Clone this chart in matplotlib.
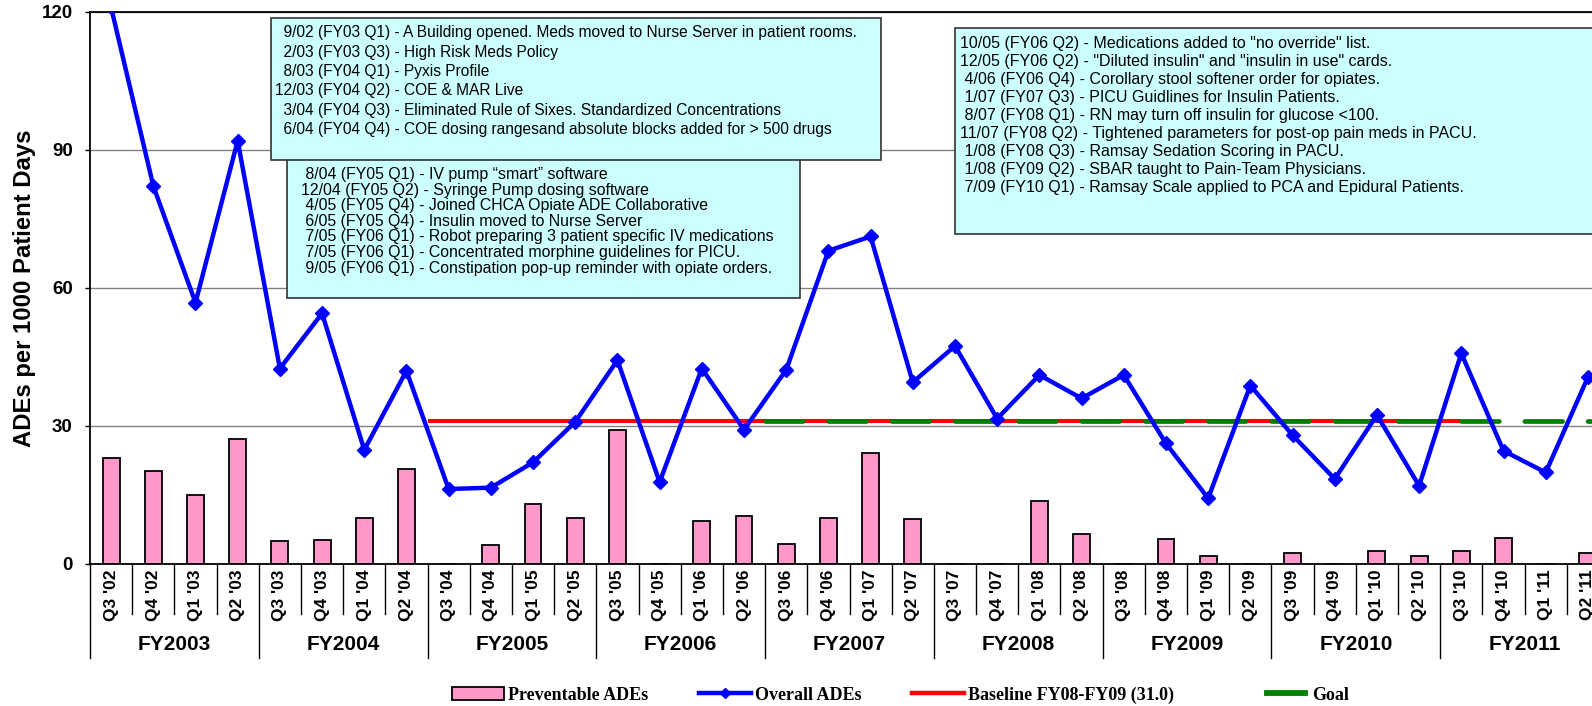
import matplotlib
matplotlib.use("Agg")
import matplotlib.pyplot as plt
from matplotlib import transforms
from matplotlib.patches import Rectangle, Patch
from matplotlib.lines import Line2D

quarters = ["Q3 '02", "Q4 '02", "Q1 '03", "Q2 '03", "Q3 '03", "Q4 '03",
            "Q1 '04", "Q2 '04", "Q3 '04", "Q4 '04", "Q1 '05", "Q2 '05",
            "Q3 '05", "Q4 '05", "Q1 '06", "Q2 '06", "Q3 '06", "Q4 '06",
            "Q1 '07", "Q2 '07", "Q3 '07", "Q4 '07", "Q1 '08", "Q2 '08",
            "Q3 '08", "Q4 '08", "Q1 '09", "Q2 '09", "Q3 '09", "Q4 '09",
            "Q1 '10", "Q2 '10", "Q3 '10", "Q4 '10", "Q1 '11", "Q2 '11"]
fiscal_years = ["FY2003", "FY2004", "FY2005", "FY2006", "FY2007",
                "FY2008", "FY2009", "FY2010", "FY2011"]

overall_ades = [121.0, 82.2, 56.8, 92.0, 42.5, 54.5, 24.8, 42.0,
                16.3, 16.6, 22.1, 30.9, 44.3, 17.8, 42.5, 29.2,
                42.2, 68.1, 71.2, 39.5, 47.4, 31.6, 41.1, 36.0,
                41.1, 26.2, 14.3, 38.8, 28.0, 18.5, 32.4, 17.0,
                45.8, 24.6, 19.9, 40.6]
preventable_ades = [23.1, 20.3, 15.0, 27.1, 5.1, 5.2, 10.1, 20.7,
                    0.0, 4.1, 13.1, 10.1, 29.2, 0.0, 9.3, 10.4,
                    4.3, 9.9, 24.1, 9.8, 0.0, 0.0, 13.6, 6.5,
                    0.0, 5.5, 1.8, 0.0, 2.3, 0.0, 2.8, 1.8,
                    2.9, 5.7, 0.0, 2.5]

baseline_value = 31.0
baseline_first_q = 8     # Q3 '04
baseline_last_q = 32     # Q3 '10
goal_value = 31.0
goal_first_q = 16        # Q3 '06

notes_fy03_fy04 = [
    "  9/02 (FY03 Q1) - A Building opened. Meds moved to Nurse Server in patient rooms.",
    "  2/03 (FY03 Q3) - High Risk Meds Policy",
    "  8/03 (FY04 Q1) - Pyxis Profile",
    "12/03 (FY04 Q2) - COE & MAR Live",
    "  3/04 (FY04 Q3) - Eliminated Rule of Sixes. Standardized Concentrations",
    "  6/04 (FY04 Q4) - COE dosing rangesand absolute blocks added for > 500 drugs",
]
notes_fy05_fy06 = [
    " 8/04 (FY05 Q1) - IV pump \u201csmart\u201d software",
    "12/04 (FY05 Q2) - Syringe Pump dosing software",
    " 4/05 (FY05 Q4) - Joined CHCA Opiate ADE Collaborative",
    " 6/05 (FY05 Q4) - Insulin moved to Nurse Server",
    " 7/05 (FY06 Q1) - Robot preparing 3 patient specific IV medications",
    " 7/05 (FY06 Q1) - Concentrated morphine guidelines for PICU.",
    " 9/05 (FY06 Q1) - Constipation pop-up reminder with opiate orders.",
]
notes_fy06_fy10 = [
    "10/05 (FY06 Q2) - Medications added to \"no override\" list.",
    "12/05 (FY06 Q2) - \"Diluted insulin\" and \"insulin in use\" cards.",
    " 4/06 (FY06 Q4) - Corollary stool softener order for opiates.",
    " 1/07 (FY07 Q3) - PICU Guidlines for Insulin Patients.",
    " 8/07 (FY08 Q1) - RN may turn off insulin for glucose <100.",
    "11/07 (FY08 Q2) - Tightened parameters for post-op pain meds in PACU.",
    " 1/08 (FY08 Q3) - Ramsay Sedation Scoring in PACU.",
    " 1/08 (FY09 Q2) - SBAR taught to Pain-Team Physicians.",
    " 7/09 (FY10 Q1) - Ramsay Scale applied to PCA and Epidural Patients.",
]

plt.rcParams['font.family'] = 'Liberation Sans'

W, H = 1592, 706
fig = plt.figure(figsize=(W / 100, H / 100), dpi=100)

# plot area runs a little past the right edge of the canvas
ax_left, ax_right, ax_top, ax_bottom = 90, 1609, 12, 564
ax = fig.add_axes([ax_left / W, 1 - ax_bottom / H,
                   (ax_right - ax_left) / W, (ax_bottom - ax_top) / H])

n = len(quarters)
x = list(range(n))

ax.set_xlim(-0.5, n - 0.5)
ax.set_ylim(0, 120)
ax.set_yticks([0, 30, 60, 90, 120])
ax.yaxis.grid(True, color='#808080', linewidth=1.0)
ax.set_axisbelow(True)

ax.bar(x, preventable_ades, width=0.4, color='#FF99CC',
       edgecolor='black', linewidth=1.3, zorder=2)

ax.plot(x, overall_ades, color='#0000FF', linewidth=3.2, marker='D',
        markersize=7.5, markeredgewidth=1, zorder=4)

ax.plot([baseline_first_q - 0.5, baseline_last_q],
        [baseline_value, baseline_value], color='#FF0000',
        linewidth=2.9, solid_capstyle='butt', zorder=3)

goal_line, = ax.plot([goal_first_q - 0.5, n - 0.5], [goal_value, goal_value],
                     color='#008000', linewidth=3.4, zorder=3,
                     dash_capstyle='round')
goal_line.set_dashes((8.0, 5.4))

for side in ['top', 'left', 'bottom']:
    ax.spines[side].set_color('black')
    ax.spines[side].set_linewidth(1.3)
ax.spines['right'].set_visible(False)

ax.tick_params(axis='y', length=3.5, width=1, pad=9, labelsize=13.5)
for lab in ax.get_yticklabels():
    lab.set_fontweight('bold')

ax.set_xticks(x)
ax.set_xticklabels(quarters, rotation=90, fontsize=12.5, fontweight='bold')
ax.tick_params(axis='x', length=0, pad=4)

# two-level category axis: quarter separators and fiscal year groups
axes_h = ax_bottom - ax_top
trans = transforms.blended_transform_factory(ax.transData, ax.transAxes)
q_depth = -50 / axes_h
fy_depth = -94 / axes_h
for k in range(n + 1):
    depth = fy_depth if k % 4 == 0 else q_depth
    ax.plot([k - 0.5, k - 0.5], [0, depth], color='black', linewidth=1.0,
            transform=trans, clip_on=False)
for g, fy in enumerate(fiscal_years):
    ax.text(4 * g + 1.5, -80 / axes_h, fy, transform=trans, ha='center',
            va='center', fontsize=15, fontweight='bold')

fig.text(25 / W, 1 - 288 / H, 'ADEs per 1000 Patient Days', rotation=90,
         ha='center', va='center', fontsize=17.2, fontweight='bold')

# intervention notes: box edges, text start, first line y, line step, size
note_boxes = [
    (287, 155, 800, 298, 301, 174.5, 15.6, 11.4, notes_fy05_fy06),
    (271, 18, 881, 160, 275, 33.0, 19.3, 11.2, notes_fy03_fy04),
    (955, 28, 1620, 234, 960, 43.5, 18.0, 11.5, notes_fy06_fy10),
]
for left, top, right, bottom, tx, ty, step, size, lines in note_boxes:
    fig.add_artist(Rectangle((left / W, 1 - bottom / H),
                             (right - left) / W, (bottom - top) / H,
                             transform=fig.transFigure, facecolor='#CCFFFF',
                             edgecolor='#333333', linewidth=1.2))
    for i, line in enumerate(lines):
        fig.text(tx / W, 1 - (ty + i * step) / H, line, ha='left',
                 va='center', fontsize=size)

legend_font = {'family': 'Liberation Serif', 'weight': 'bold', 'size': 13}
main_handles = [
    Patch(facecolor='#FF99CC', edgecolor='black', linewidth=1.3),
    Line2D([], [], color='#0000FF', linewidth=3.2, marker='D', markersize=5),
    Line2D([], [], color='#FF0000', linewidth=3.2),
]
main_labels = ['Preventable ADEs', 'Overall ADEs', 'Baseline FY08-FY09 (31.0)']
fig.legend(main_handles, main_labels, loc='center', ncol=3,
           bbox_to_anchor=(813 / W, 1 - 695 / H), frameon=False,
           prop=legend_font, handlelength=2.9, handleheight=0.7,
           handletextpad=0.2, columnspacing=2.8)
fig.legend([Line2D([], [], color='#008000', linewidth=4.2)], ['Goal'],
           loc='center', bbox_to_anchor=(1308 / W, 1 - 695 / H),
           frameon=False, prop=legend_font, handlelength=2.1,
           handletextpad=0.35)

fig.savefig('out.png', dpi=100)
